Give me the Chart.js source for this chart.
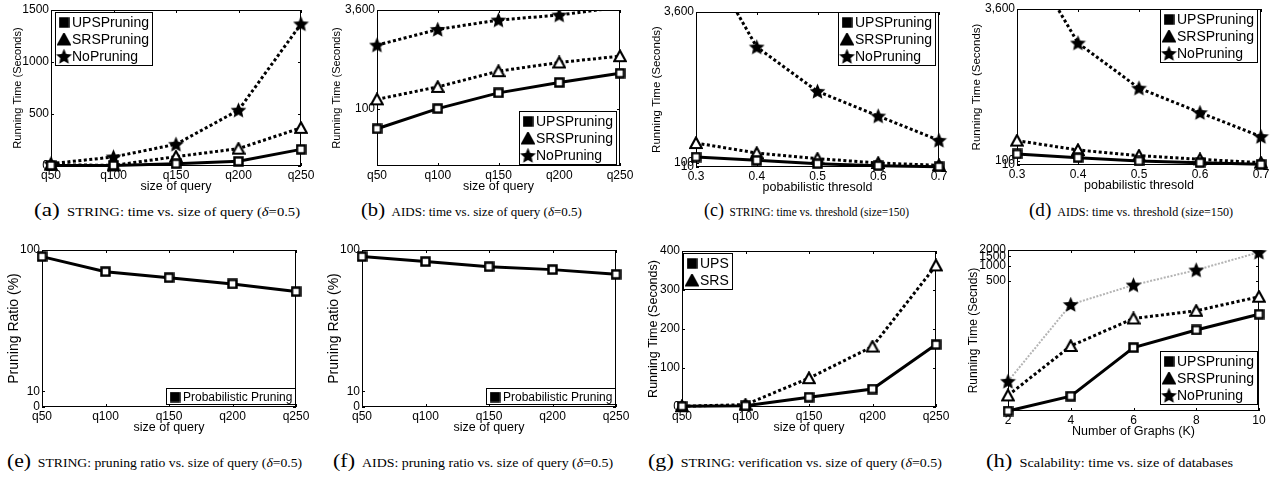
<!DOCTYPE html>
<html>
<head>
<meta charset="utf-8">
<script src="https://cdn.jsdelivr.net/npm/chart.js@4.4.0/dist/chart.umd.min.js"></script>
<style>
  body { margin: 0; background: #fff; width: 1276px; height: 477px; position: relative; overflow: hidden; }
  .cap { position: absolute; white-space: nowrap; color: #000; line-height: 20px;
         font-family: "Liberation Serif", "Times New Roman", serif; font-size: 12px; transform-origin: 0 0; }
  .cap .lt { font-size: 19px; margin-right: 6px; }
</style>
</head>
<body>
<div class="cap" data-w="266" style="left:34px;top:200px"><span class="lt">(a)</span>STRING: time vs. size of query (<i>δ</i>=0.5)</div>
<div class="cap" data-w="221" style="left:361px;top:200px"><span class="lt">(b)</span>AIDS: time vs. size of query (<i>δ</i>=0.5)</div>
<div class="cap" data-w="205" style="left:704px;top:200px"><span class="lt">(c)</span>STRING: time vs. threshold (size=150)</div>
<div class="cap" data-w="204" style="left:1029px;top:200px"><span class="lt">(d)</span>AIDS: time vs. threshold (size=150)</div>
<div class="cap" data-w="295" style="left:7px;top:451px"><span class="lt">(e)</span>STRING: pruning ratio vs. size of query (<i>δ</i>=0.5)</div>
<div class="cap" data-w="280" style="left:333px;top:451px"><span class="lt">(f)</span>AIDS: pruning ratio vs. size of query (<i>δ</i>=0.5)</div>
<div class="cap" data-w="294" style="left:648px;top:451px"><span class="lt">(g)</span>STRING: verification vs. size of query (<i>δ</i>=0.5)</div>
<div class="cap" data-w="247" style="left:986px;top:451px"><span class="lt">(h)</span>Scalability: time vs. size of databases</div>

<script>
// categories
const queryLabels = ['q50', 'q100', 'q150', 'q200', 'q250'];
const thresholdLabels = ['0.3', '0.4', '0.5', '0.6', '0.7'];
const graphLabels = ['2', '4', '6', '8', '10'];

// (a) STRING, time vs size of query
const stringUps = [6, 6, 22, 45, 160];
const stringSrs = [13, 6, 90, 167, 367];
const stringNo = [22, 87, 209, 537, 1366];

// (b) AIDS, time vs size of query
const aidsUps = [48, 100, 177, 258, 362];
const aidsSrs = [140, 220, 390, 534, 673];
const aidsNo = [1005, 1778, 2500, 2998, 4000];

// (c) STRING, time vs threshold
const strThUps = [232, 155, 77, 31, 8];
const strThSrs = [557, 325, 194, 93, 39];
const strThNo = [5250, 2786, 1757, 1184, 619];

// (d) AIDS, time vs threshold
const aidsThUps = [254, 170, 93, 54, 15];
const aidsThSrs = [563, 347, 216, 131, 54];
const aidsThNo = [5212, 2814, 1773, 1210, 655];

// (e) (f) pruning ratio
const stringRatio = [95.8, 86.2, 82.4, 78.4, 73.5];
const aidsRatio = [95.8, 92.6, 89.4, 87.5, 84.5];

// (g) verification
const verifyUps = [2, 3, 25, 46, 160];
const verifySrs = [2, 6, 74, 155, 363];

// (h) scalability
const scaleUps = [1.55, 3.0, 26, 57, 115];
const scaleSrs = [3.1, 28, 95, 134, 250];
const scaleNo = [5.8, 177, 421, 820, 1803];

// tick values and their labels
const ticksA = [0, 500, 1000, 1500];
const ticksAText = ['0', '500', '1000', '1500'];
const ticksB = [100, 3600];
const ticksBText = ['100', '3,600'];
const ticksCD = [10, 100, 3600];
const ticksCDText = ['10', '100', '3,600'];
const ticksEF = [0, 10, 100];
const ticksEFText = ['0', '10', '100'];
const ticksG = [0, 100, 200, 300, 400];
const ticksGText = ['0', '100', '200', '300', '400'];
const ticksH = [500, 1000, 1500, 2000];
const ticksHText = ['500', '1000', '1500', '2000'];

const FONT = '"Liberation Sans", Arial, Helvetica, sans-serif';

// marker glyphs (MATLAB-ish)
function marker(kind, filled) {
  const c = document.createElement('canvas');
  const s = kind === 'star' ? 17 : kind === 'tri' ? 14 : 11;
  c.width = s; c.height = s;
  const g = c.getContext('2d');
  g.strokeStyle = '#000';
  g.fillStyle = filled ? '#000' : '#fff';
  if (kind === 'square') {
    g.lineWidth = 2.5;
    g.fillRect(1.5, 1.5, s - 3, s - 3);
    g.strokeRect(1.5, 1.5, s - 3, s - 3);
  } else if (kind === 'tri') {
    g.lineWidth = 2.2;
    g.beginPath();
    g.moveTo(s / 2, 1.5); g.lineTo(s - 1.2, s - 2); g.lineTo(1.2, s - 2);
    g.closePath(); g.fill(); g.stroke();
  } else {
    g.fillStyle = '#000';
    const cx = s / 2, cy = s / 2 + 0.6, R = s / 2 - 0.2, r = R * 0.46;
    g.beginPath();
    for (let i = 0; i < 10; i++) {
      const a = -Math.PI / 2 + i * Math.PI / 5;
      const rr = i % 2 ? r : R;
      g.lineTo(cx + rr * Math.cos(a), cy + rr * Math.sin(a));
    }
    g.closePath(); g.fill();
  }
  return c;
}

function line(label, data, kind, style, color) {
  return {
    label, data,
    borderColor: color || '#000',
    borderWidth: style === 'thin' ? 2 : 3,
    borderDash: style === 'dot' ? [3, 2.5] : style === 'thin' ? [2, 1.5] : [],
    pointStyle: marker(kind, false),
    legendMark: marker(kind, true),
    pointRadius: 1, pointHoverRadius: 1, pointBorderWidth: 1,
    tension: 0, fill: false,
    clip: { left: 12, right: 12, top: 0, bottom: 12 }
  };
}

// plot frame + small inward tick marks
const framePlugin = {
  id: 'frame',
  beforeDatasetsDraw(chart) {
    const { ctx, chartArea: a, scales } = chart;
    ctx.save();
    ctx.strokeStyle = '#000';
    ctx.lineWidth = 1;
    ctx.strokeRect(a.left + 0.5, a.top + 0.5, a.width - 1, a.height - 1);
    ctx.beginPath();
    scales.x.ticks.forEach((t, i) => {
      const x = Math.round(scales.x.getPixelForTick(i)) + 0.5;
      ctx.moveTo(x, a.bottom); ctx.lineTo(x, a.bottom - 3);
      ctx.moveTo(x, a.top); ctx.lineTo(x, a.top + 3);
    });
    scales.y.ticks.forEach(t => {
      const y = Math.round(scales.y.getPixelForValue(t.value)) + 0.5;
      ctx.moveTo(a.left, y); ctx.lineTo(a.left + 3, y);
      ctx.moveTo(a.right, y); ctx.lineTo(a.right - 3, y);
    });
    ctx.stroke();
    ctx.restore();
  }
};

// boxed legend drawn inside the plot area
const boxLegend = {
  id: 'boxLegend',
  afterDatasetsDraw(chart, args, opts) {
    if (!opts || !opts.corner) return;
    const { ctx, chartArea: a } = chart;
    const sets = chart.data.datasets;
    ctx.save();
    ctx.font = opts.size + 'px ' + FONT;
    const rowH = opts.rowH;
    const tw = Math.max(...sets.map(d => ctx.measureText(d.label).width));
    const w = Math.round(18 + tw + 3), h = sets.length * rowH + 3;
    const x = Math.round(opts.corner.includes('l') ? a.left + opts.dx : a.right - opts.dx - w);
    const y = Math.round(opts.corner.includes('t') ? a.top + opts.dy : a.bottom - opts.dy - h);
    ctx.fillStyle = '#fff';
    ctx.fillRect(x, y, w, h);
    ctx.strokeStyle = '#000';
    ctx.lineWidth = 1;
    ctx.strokeRect(x + 0.5, y + 0.5, w - 1, h - 1);
    ctx.fillStyle = '#000';
    ctx.textBaseline = 'middle';
    sets.forEach((d, i) => {
      const cy = y + 2 + rowH * (i + 0.5);
      const m = d.legendMark;
      ctx.drawImage(m, x + 9 - m.width / 2, cy - m.height / 2);
      ctx.fillText(d.label, x + 17, cy + 1);
    });
    ctx.restore();
  }
};

function panel(cfg) {
  const yW = cfg.d + 7;
  const padTop = 10, padRight = 20, xH = 28;
  const w = yW + (cfg.R - cfg.L) + padRight;
  const h = padTop + (cfg.B - cfg.T) + xH;
  const cv = document.createElement('canvas');
  cv.width = w; cv.height = h;
  cv.style.cssText = `position:absolute;left:${cfg.L - yW}px;top:${cfg.T - padTop}px;width:${w}px;height:${h}px`;
  document.body.appendChild(cv);

  new Chart(cv, {
    type: 'line',
    data: { labels: cfg.labels, datasets: cfg.sets },
    options: {
      responsive: false,
      animation: false,
      devicePixelRatio: 1,
      events: [],
      layout: { padding: { top: padTop, right: padRight, left: 0, bottom: 0 } },
      plugins: {
        legend: { display: false },
        tooltip: { enabled: false },
        boxLegend: cfg.legend
      },
      scales: {
        x: {
          grid: { display: false, drawTicks: false },
          border: { display: false },
          ticks: { color: '#000', font: { family: FONT, size: 12 }, padding: 2, maxRotation: 0, autoSkip: false },
          title: { display: true, text: cfg.xTitle, color: '#000', font: { family: FONT, size: 12.5 }, padding: 0 },
          afterFit: s => { s.height = xH; }
        },
        y: {
          type: cfg.yType,
          min: cfg.yMin,
          max: cfg.yMax,
          grid: { display: false, drawTicks: false },
          border: { display: false },
          ticks: {
            color: '#000', font: { family: FONT, size: 12 }, padding: 2, autoSkip: false,
            callback: (v, i) => cfg.tickText[i]
          },
          title: { display: true, text: cfg.yTitle, color: '#000', font: { family: FONT, size: cfg.yTitleSize }, padding: 0 },
          afterBuildTicks: s => { s.ticks = cfg.tickVals.map(v => ({ value: v })); },
          afterFit: s => { s.width = yW; }
        }
      }
    },
    plugins: [framePlugin, boxLegend]
  });
}

const timeTitle = 'Running Time (Seconds)';

panel({ L: 51, T: 10, R: 301, B: 166, d: 33, labels: queryLabels, xTitle: 'size of query',
  yTitle: timeTitle, yTitleSize: 11, yType: 'linear', yMin: 0, yMax: 1500, tickVals: ticksA, tickText: ticksAText,
  legend: { corner: 'tl', dx: 4, dy: 2, size: 14, rowH: 17 },
  sets: [line('UPSPruning', stringUps, 'square', 'solid'), line('SRSPruning', stringSrs, 'tri', 'dot'), line('NoPruning', stringNo, 'star', 'dot')] });

panel({ L: 377, T: 10, R: 620, B: 166, d: 40, labels: queryLabels, xTitle: 'size of query',
  yTitle: timeTitle, yTitleSize: 11, yType: 'logarithmic', yMin: 12.4, yMax: 3600, tickVals: ticksB, tickText: ticksBText,
  legend: { corner: 'br', dx: 3, dy: 1, size: 14, rowH: 17 },
  sets: [line('UPSPruning', aidsUps, 'square', 'solid'), line('SRSPruning', aidsSrs, 'tri', 'dot'), line('NoPruning', aidsNo, 'star', 'dot')] });

panel({ L: 696, T: 12, R: 939, B: 167, d: 39, labels: thresholdLabels, xTitle: 'pobabilistic thresold',
  yTitle: timeTitle, yTitleSize: 11.5, yType: 'linear', yMin: 0, yMax: 3600, tickVals: ticksCD, tickText: ticksCDText,
  legend: { corner: 'tr', dx: 3, dy: 0, size: 14, rowH: 17 },
  sets: [line('UPSPruning', strThUps, 'square', 'solid'), line('SRSPruning', strThSrs, 'tri', 'dot'), line('NoPruning', strThNo, 'star', 'dot')] });

panel({ L: 1017, T: 9, R: 1261, B: 165, d: 40, labels: thresholdLabels, xTitle: 'pobabilistic thresold',
  yTitle: timeTitle, yTitleSize: 11.5, yType: 'linear', yMin: 0, yMax: 3600, tickVals: ticksCD, tickText: ticksCDText,
  legend: { corner: 'tr', dx: 3, dy: 0, size: 14, rowH: 17 },
  sets: [line('UPSPruning', aidsThUps, 'square', 'solid'), line('SRSPruning', aidsThSrs, 'tri', 'dot'), line('NoPruning', aidsThNo, 'star', 'dot')] });

panel({ L: 42, T: 250, R: 296, B: 407, d: 29, labels: queryLabels, xTitle: 'size of query',
  yTitle: 'Pruning Ratio (%)', yTitleSize: 14, yType: 'linear', yMin: 0, yMax: 100, tickVals: ticksEF, tickText: ticksEFText,
  legend: { corner: 'br', dx: 0, dy: 2, size: 12, rowH: 14 },
  sets: [line('Probabilistic Pruning', stringRatio, 'square', 'solid')] });

panel({ L: 362, T: 250, R: 616, B: 407, d: 29, labels: queryLabels, xTitle: 'size of query',
  yTitle: 'Pruning Ratio (%)', yTitleSize: 14, yType: 'linear', yMin: 0, yMax: 100, tickVals: ticksEF, tickText: ticksEFText,
  legend: { corner: 'br', dx: 0, dy: 2, size: 12, rowH: 14 },
  sets: [line('Probabilistic Pruning', aidsRatio, 'square', 'solid')] });

panel({ L: 682, T: 251, R: 936, B: 407, d: 29, labels: queryLabels, xTitle: 'size of query',
  yTitle: timeTitle, yTitleSize: 12.5, yType: 'linear', yMin: 0, yMax: 400, tickVals: ticksG, tickText: ticksGText,
  legend: { corner: 'tl', dx: 1, dy: 2, size: 14, rowH: 17 },
  sets: [line('UPS', verifyUps, 'square', 'solid'), line('SRS', verifySrs, 'tri', 'dot')] });

panel({ L: 1008, T: 250, R: 1259, B: 411, d: 35, labels: graphLabels, xTitle: 'Number of Graphs (K)',
  yTitle: 'Running Time (Secnds)', yTitleSize: 12, yType: 'logarithmic', yMin: 1.55, yMax: 2000, tickVals: ticksH, tickText: ticksHText,
  legend: { corner: 'br', dx: 1, dy: 6, size: 14, rowH: 17 },
  sets: [line('UPSPruning', scaleUps, 'square', 'solid'), line('SRSPruning', scaleSrs, 'tri', 'dot'), line('NoPruning', scaleNo, 'star', 'thin', '#b4b4b4')] });

// captions are stretched horizontally in the original figure
document.querySelectorAll('.cap').forEach(el => {
  const natural = el.getBoundingClientRect().width;
  el.style.transform = `scaleX(${(+el.dataset.w / natural).toFixed(3)})`;
});
</script>
</body>
</html>
